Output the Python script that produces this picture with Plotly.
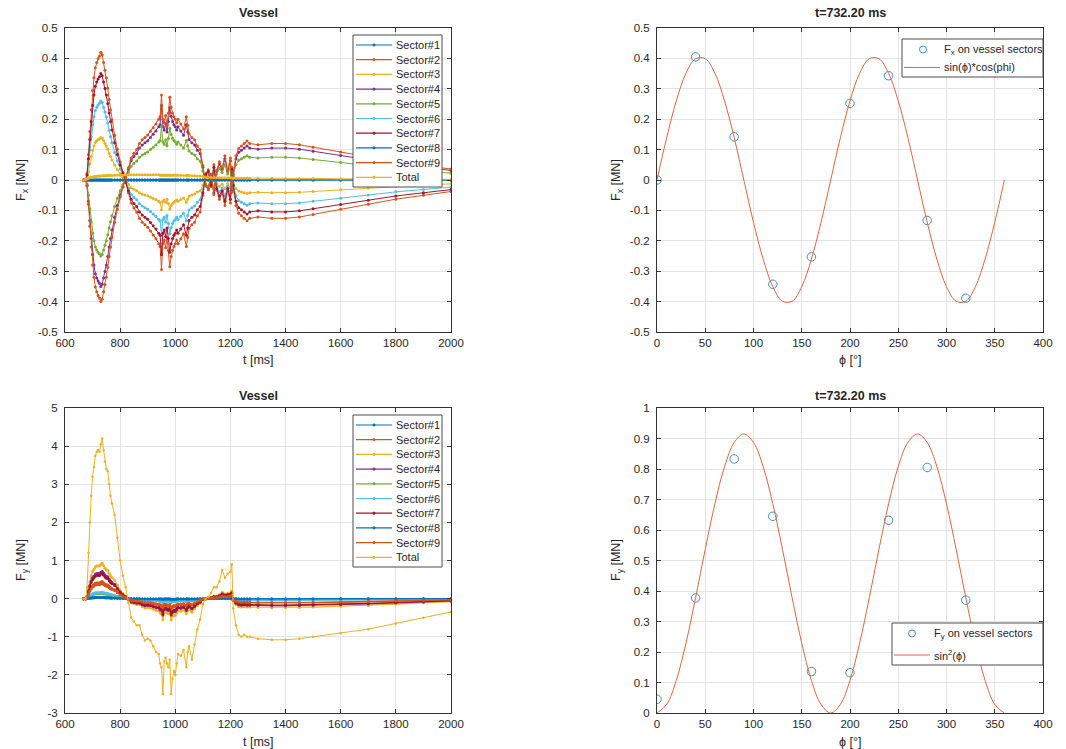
import plotly.graph_objects as go

W, H = 1066, 749

# ---------------- data ----------------
t_ms = [667, 675, 680, 685, 690, 695, 700, 705, 710, 715,
        720, 725, 730, 735, 740, 745, 750, 755, 760, 765,
        770, 780, 790, 800, 810, 820, 830, 840, 850, 860,
        870, 880, 890, 900, 910, 920, 930, 940, 945, 950,
        955, 960, 965, 970, 975, 980, 985, 990, 995, 1000,
        1005, 1010, 1020, 1030, 1040, 1045, 1050, 1060, 1070, 1080,
        1090, 1100, 1110, 1120, 1130, 1140, 1150, 1160, 1170, 1180,
        1190, 1200, 1205, 1210, 1220, 1230, 1240, 1250, 1260, 1270,
        1300, 1350, 1400, 1450, 1500, 1600, 1700, 1800, 1900, 2000]

# relative time history of the sector Fx loads (1 = value at t=732 ms)
fx_shape = [0, 0, 0.05, 0.2, 0.38, 0.55, 0.7, 0.8, 0.88, 0.92,
            0.95, 0.97, 1.0, 0.98, 0.92, 0.86, 0.8, 0.72, 0.63, 0.55,
            0.47, 0.35, 0.24, 0.14, 0.06, -0.02, -0.1, -0.18, -0.22, -0.25,
            -0.3, -0.33, -0.35, -0.37, -0.4, -0.43, -0.46, -0.5, -0.52, -0.7,
            -0.5, -0.47, -0.53, -0.45, -0.55, -0.68, -0.6, -0.55, -0.52, -0.5,
            -0.47, -0.5, -0.46, -0.42, -0.52, -0.45, -0.38, -0.35, -0.33, -0.28,
            -0.25, -0.12, 0.05, 0.08, -0.05, 0.12, -0.08, -0.15, -0.1, -0.2,
            -0.08, -0.18, 0.1, -0.05, -0.2, -0.26, -0.28, -0.3, -0.32, -0.3,
            -0.29, -0.3, -0.3, -0.29, -0.27, -0.23, -0.19, -0.15, -0.12, -0.09]

fx_total = [0, 0.002, 0.004, 0.006, 0.008, 0.009, 0.01, 0.011, 0.012, 0.012,
            0.013, 0.013, 0.013, 0.014, 0.014, 0.014, 0.015, 0.015, 0.015, 0.015,
            0.015, 0.016, 0.016, 0.016, 0.016, 0.017, 0.017, 0.017, 0.017, 0.017,
            0.017, 0.017, 0.017, 0.017, 0.017, 0.017, 0.017, 0.017, 0.016, 0.016,
            0.016, 0.016, 0.016, 0.016, 0.016, 0.016, 0.016, 0.016, 0.016, 0.016,
            0.016, 0.016, 0.016, 0.015, 0.015, 0.015, 0.015, 0.014, 0.014, 0.013,
            0.013, 0.012, 0.01, 0.009, 0.008, 0.008, 0.008, 0.007, 0.007, 0.007,
            0.007, 0.007, 0.007, 0.006, 0.006, 0.006, 0.006, 0.006, 0.006, 0.006,
            0.006, 0.006, 0.005, 0.005, 0.005, 0.004, 0.004, 0.003, 0.002, 0.002]

fy_total = [0, 0, 0.3, 1.2, 2.0, 2.7, 3.2, 3.45, 3.75, 3.85,
            3.9, 3.85, 4.05, 4.2, 3.9, 3.6, 3.4, 3.35, 3.0, 2.7,
            2.5, 2.2, 1.6, 1.0, 0.6, 0.3, -0.1, -0.5, -0.6, -0.7,
            -0.7, -0.95, -1.1, -1.05, -1.1, -1.25, -1.4, -1.45, -1.7, -1.8,
            -2.5, -1.65, -1.55, -1.7, -1.8, -1.6, -2.5, -2.1, -1.9, -2.0,
            -1.7, -1.45, -1.5, -1.35, -1.8, -1.4, -1.25, -1.6, -1.2, -0.8,
            -0.55, -0.15, 0.0, 0.05, 0.15, 0.3, 0.3, 0.45, 0.75, 0.55,
            0.65, 0.7, 0.9, -0.25, -0.7, -0.95, -1.0, -0.95, -1.0, -1.0,
            -1.05, -1.08, -1.08, -1.05, -1.0, -0.9, -0.8, -0.65, -0.5, -0.35]
fy_total_peak = 4.2

sector_names = ["Sector#1", "Sector#2", "Sector#3", "Sector#4", "Sector#5",
                "Sector#6", "Sector#7", "Sector#8", "Sector#9"]
# sector loads at t=732 ms as seen in the time-history panels
fx_peak = [0.0, 0.42, 0.14, -0.35, -0.25, 0.26, 0.35, 0.0, -0.40]
fy_peak = [0.03, 0.45, 0.93, 0.72, 0.14, 0.17, 0.66, 0.03, 0.40]

# sector loads vs angle at t=732.20 ms
phi_sectors = [0, 40, 80, 120, 160, 200, 240, 280, 320]
fx_sectors = [0.0, 0.405, 0.142, -0.343, -0.253, 0.252, 0.343, -0.133, -0.389]
fy_sectors = [0.045, 0.377, 0.833, 0.645, 0.136, 0.132, 0.632, 0.805, 0.37]

# fitted curves read at 10 degree steps
phi_fit = [0, 10, 20, 30, 40, 50, 60, 70, 80, 90, 100, 110, 120, 130, 140, 150, 160, 170, 180,
           190, 200, 210, 220, 230, 240, 250, 260, 270, 280, 290, 300, 310, 320, 330, 340, 350, 360]
fx_fit = [0, 0.139, 0.26, 0.351, 0.399, 0.399, 0.351, 0.26, 0.139, 0, -0.139, -0.26, -0.351, -0.399,
          -0.399, -0.351, -0.26, -0.139, 0,
          0.139, 0.26, 0.351, 0.399, 0.399, 0.351, 0.26, 0.139, 0, -0.139, -0.26, -0.351, -0.399,
          -0.399, -0.351, -0.26, -0.139, 0]
fy_fit = [0, 0.028, 0.107, 0.229, 0.378, 0.537, 0.686, 0.808, 0.887, 0.915, 0.887, 0.808, 0.686,
          0.537, 0.378, 0.229, 0.107, 0.028, 0,
          0.028, 0.107, 0.229, 0.378, 0.537, 0.686, 0.808, 0.887, 0.915, 0.887, 0.808, 0.686,
          0.537, 0.378, 0.229, 0.107, 0.028, 0]

x_time_ticks = [600, 800, 1000, 1200, 1400, 1600, 1800, 2000]
x_phi_ticks = [0, 50, 100, 150, 200, 250, 300, 350, 400]
y_fx_vals = [0.5, 0.4, 0.3, 0.2, 0.1, 0, -0.1, -0.2, -0.3, -0.4, -0.5]
y_fx_text = ["0.5", "0.4", "0.3", "0.2", "0.1", "0", "-0.1", "-0.2", "-0.3", "-0.4", "-0.5"]
y_fy_vals = [5, 4, 3, 2, 1, 0, -1, -2, -3]
y_fy_text = ["5", "4", "3", "2", "1", "0", "-1", "-2", "-3"]
y_fy2_vals = [0, 0.1, 0.2, 0.3, 0.4, 0.5, 0.6, 0.7, 0.8, 0.9, 1]
y_fy2_text = ["0", "0.1", "0.2", "0.3", "0.4", "0.5", "0.6", "0.7", "0.8", "0.9", "1"]

# ---------------- style ----------------
colors = ["#0072BD", "#D95319", "#EDB120", "#7E2F8E", "#77AC30",
          "#4DBEEE", "#A2142F", "#0072BD", "#D95319"]
total_color = "#EDB120"
FONT = "Liberation Sans, Arial, Helvetica, sans-serif"
TXT = "#262626"
TICK_SIZE = 11.5
LAB_SIZE = 12.5
LEG_SIZE = 11


def px(x):
    return x / W


def py(y):
    return 1 - y / H


fig = go.Figure()

# ---- top-left: Fx time histories ----
for name, c, a in zip(sector_names, colors, fx_peak):
    fig.add_trace(go.Scatter(x=t_ms, y=[a * s for s in fx_shape], mode="lines+markers",
                             line=dict(color=c, width=1), marker=dict(size=3, color=c),
                             name=name, showlegend=False, xaxis="x", yaxis="y"))
fig.add_trace(go.Scatter(x=t_ms, y=fx_total, mode="lines+markers",
                         line=dict(color=total_color, width=1), marker=dict(size=3, color=total_color),
                         name="Total", showlegend=False, xaxis="x", yaxis="y"))

# ---- bottom-left: Fy time histories ----
for name, c, a in zip(sector_names, colors, fy_peak):
    fig.add_trace(go.Scatter(x=t_ms, y=[a * v / fy_total_peak for v in fy_total], mode="lines+markers",
                             line=dict(color=c, width=1.2), marker=dict(size=3, color=c),
                             name=name, showlegend=False, xaxis="x3", yaxis="y3"))
fig.add_trace(go.Scatter(x=t_ms, y=fy_total, mode="lines+markers",
                         line=dict(color=total_color, width=1), marker=dict(size=2.5, color=total_color),
                         name="Total", showlegend=False, xaxis="x3", yaxis="y3"))

# ---- right panels ----
PT_COLOR = "#3d8fd1"
FIT_COLOR = "#e0643c"
fig.add_trace(go.Scatter(x=phi_sectors, y=fx_sectors, mode="markers",
                         marker=dict(symbol="circle-open", size=8.5, color=PT_COLOR, line=dict(width=1)),
                         showlegend=False, xaxis="x2", yaxis="y2"))
fig.add_trace(go.Scatter(x=phi_fit, y=fx_fit, mode="lines", line=dict(color=FIT_COLOR, width=1, shape="spline"),
                         showlegend=False, xaxis="x2", yaxis="y2"))
fig.add_trace(go.Scatter(x=phi_sectors, y=fy_sectors, mode="markers",
                         marker=dict(symbol="circle-open", size=8.5, color=PT_COLOR, line=dict(width=1)),
                         showlegend=False, xaxis="x4", yaxis="y4"))
fig.add_trace(go.Scatter(x=phi_fit, y=fy_fit, mode="lines", line=dict(color=FIT_COLOR, width=1, shape="spline"),
                         showlegend=False, xaxis="x4", yaxis="y4"))

# ---------------- axes ----------------
def axis(domain, rng, tickvals, ticktext=None, anchor=None, standoff=0):
    d = dict(domain=domain, range=rng, tickvals=tickvals, showline=True, linecolor="#333333",
             linewidth=1, mirror="ticks", ticks="inside", ticklen=4, tickcolor="#333333",
             showgrid=True, gridcolor="#e3e3e3", gridwidth=1, zeroline=False, automargin=False,
             ticklabelstandoff=standoff,
             tickfont=dict(family=FONT, size=TICK_SIZE, color=TXT), anchor=anchor, fixedrange=True)
    if ticktext is not None:
        d["ticktext"] = ticktext
    return d


XL = [px(65), px(451)]
XR = [px(657), px(1043)]
YT = [py(332), py(28)]
YB = [py(713), py(408)]

layout = dict(
    width=W, height=H, autosize=False,
    margin=dict(l=0, r=0, t=0, b=0, pad=0, autoexpand=False),
    paper_bgcolor="white", plot_bgcolor="white",
    showlegend=False,
    xaxis=axis(XL, [600, 2000], x_time_ticks, anchor="y"),
    yaxis=axis(YT, [-0.5, 0.5], y_fx_vals, y_fx_text, anchor="x", standoff=4),
    xaxis2=axis(XR, [0, 400], x_phi_ticks, anchor="y2"),
    yaxis2=axis(YT, [-0.5, 0.5], y_fx_vals, y_fx_text, anchor="x2", standoff=4),
    xaxis3=axis(XL, [600, 2000], x_time_ticks, anchor="y3"),
    yaxis3=axis(YB, [-3, 5], y_fy_vals, y_fy_text, anchor="x3", standoff=4),
    xaxis4=axis(XR, [0, 400], x_phi_ticks, anchor="y4"),
    yaxis4=axis(YB, [0, 1], y_fy2_vals, y_fy2_text, anchor="x4", standoff=4),
)
fig.update_layout(**layout)

annotations = []
shapes = []


def text(x, y, s, size=LAB_SIZE, bold=False, angle=0, xanchor="center"):
    if bold:
        s = "<b>" + s + "</b>"
    annotations.append(dict(x=px(x), y=py(y), xref="paper", yref="paper", text=s, showarrow=False,
                            xanchor=xanchor, yanchor="middle", textangle=angle,
                            font=dict(family=FONT, size=size, color=TXT)))


# titles and axis labels
text(258, 13, "Vessel", bold=True)
text(258, 396, "Vessel", bold=True)
text(850, 13, "t=732.20 ms", bold=True)
text(850, 396, "t=732.20 ms", bold=True)
text(258, 360, "t [ms]")
text(258, 742, "t [ms]")
text(850, 360, "ϕ [°]")
text(850, 742, "ϕ [°]")
text(22, 180, "F<sub>x</sub> [MN]", angle=-90)
text(22, 560, "F<sub>y</sub> [MN]", angle=-90)
text(617, 180, "F<sub>x</sub> [MN]", angle=-90)
text(617, 560, "F<sub>y</sub> [MN]", angle=-90)


def rect(x0, y0, x1, y1):
    shapes.append(dict(type="rect", xref="paper", yref="paper", x0=px(x0), x1=px(x1), y0=py(y1), y1=py(y0),
                       fillcolor="white", line=dict(color="#4d4d4d", width=1), layer="above"))


def seg(x0, x1, y, color, width=1.2):
    shapes.append(dict(type="line", xref="paper", yref="paper", x0=px(x0), x1=px(x1), y0=py(y), y1=py(y),
                       line=dict(color=color, width=width), layer="above"))


def dot(x, y, r, color, filled=True):
    shapes.append(dict(type="circle", xref="paper", yref="paper", x0=px(x - r), x1=px(x + r),
                       y0=py(y + r), y1=py(y - r),
                       fillcolor=color if filled else "rgba(0,0,0,0)",
                       line=dict(color=color, width=1), layer="above"))


def time_legend(top):
    rect(353, top, 442, top + 152)
    labels = sector_names + ["Total"]
    cols = colors + [total_color]
    for i, (lab, c) in enumerate(zip(labels, cols)):
        yy = top + 10 + i * 14.7
        seg(356, 392, yy, c)
        dot(374, yy, 1.1, c)
        text(394, yy, lab, size=LEG_SIZE, xanchor="left")


time_legend(35)
time_legend(415)

# right legends
rect(902, 39, 1043, 77)
dot(923, 49.5, 3.5, PT_COLOR, filled=False)
text(942, 49.5, "F<sub>x</sub> on vessel sectors", size=LEG_SIZE, xanchor="left")
seg(904, 940, 67.5, FIT_COLOR, 1)
text(942, 67.5, "sin(ϕ)*cos(phi)", size=LEG_SIZE, xanchor="left")

rect(892, 623, 1043, 665)
dot(912, 633.5, 3.5, PT_COLOR, filled=False)
text(932, 633.5, "F<sub>y</sub> on vessel sectors", size=LEG_SIZE, xanchor="left")
seg(894, 930, 655, FIT_COLOR, 1)
text(932, 655, "sin<sup>2</sup>(ϕ)", size=LEG_SIZE, xanchor="left")

fig.update_layout(annotations=annotations, shapes=shapes)
fig.write_html("out.html")
